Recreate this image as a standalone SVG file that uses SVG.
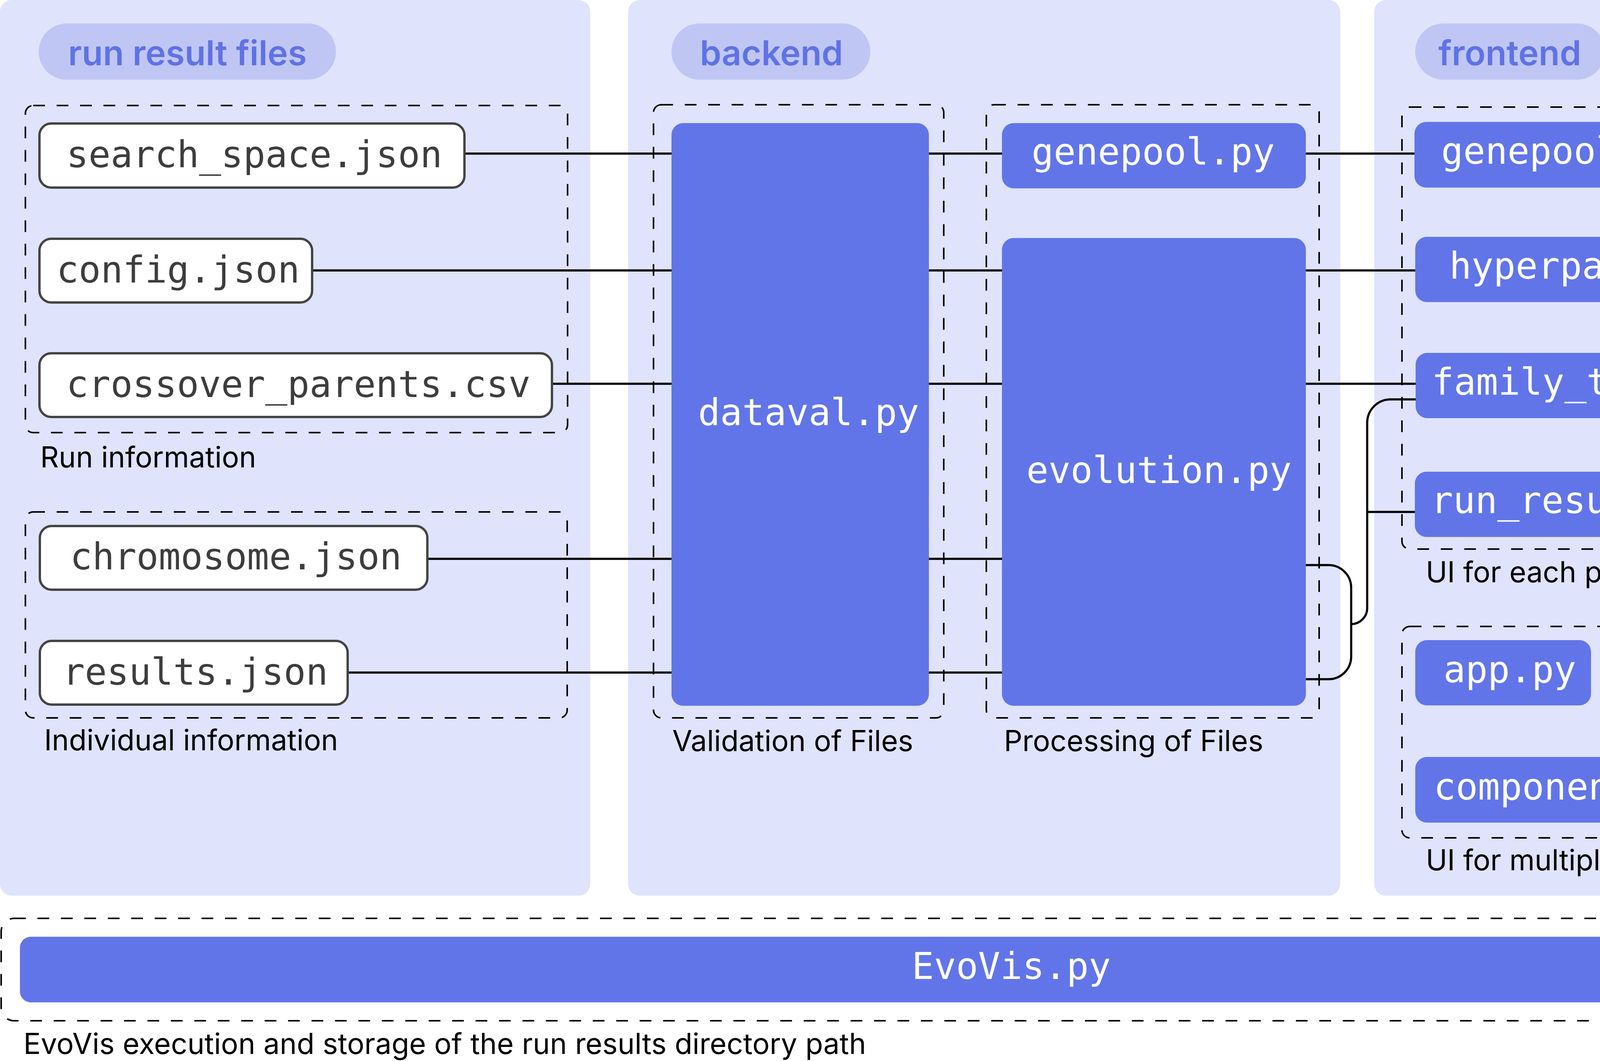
<svg xmlns="http://www.w3.org/2000/svg" width="5178" height="2715" viewBox="0 0 5178 2715">
<style>
.panel{fill:#dfe3fc}
.pill{fill:#c0c6f4}
.title{font-family:Inter,"Noto Sans",sans-serif;font-weight:600;font-size:88px;fill:#5f72e6;text-anchor:middle}
.group{fill:none;stroke:#000;stroke-width:4;stroke-dasharray:30 30}
.wbox{fill:#fff;stroke:#444;stroke-width:6}
.bbox{fill:#6275e8}
.wtxt{font-family:"DejaVu Sans Mono","Liberation Mono",monospace;font-size:94px;fill:#3d3d3d;text-anchor:middle}
.btxt{font-family:"DejaVu Sans Mono","Liberation Mono",monospace;font-size:94px;fill:#fff;text-anchor:middle}
.lbl{font-family:Inter,"Noto Sans",sans-serif;font-size:74px;fill:#000}
.conn{fill:none;stroke:#000;stroke-width:5.5}
</style>
<rect width="5178" height="2715" fill="#fff"/>
<g id="panel-run-result-files">
<rect class="panel" x="0" y="0" width="1511" height="2292" rx="30"/>
<rect class="pill" x="99" y="60" width="761" height="144" rx="72"/>
<text class="title" x="480" y="167">run result files</text>
</g>
<g id="panel-backend">
<rect class="panel" x="1608" y="0" width="1823" height="2292" rx="30"/>
<rect class="pill" x="1719" y="60" width="509" height="144" rx="72"/>
<text class="title" x="1975" y="167">backend</text>
</g>
<g id="panel-frontend">
<rect class="panel" x="3518" y="0" width="1658" height="2292" rx="30"/>
<rect class="pill" x="3623" y="60" width="486" height="144" rx="72"/>
<text class="title" x="3865" y="167">frontend</text>
</g>
<g id="group-run-information">
<rect class="group" x="65" y="270" width="1388" height="837" rx="20"/>
<text class="lbl" x="103" y="1196">Run information</text>
</g>
<g id="group-individual-information">
<rect class="group" x="65" y="1310" width="1387" height="527" rx="20"/>
<text class="lbl" x="113" y="1920">Individual information</text>
</g>
<g id="group-validation">
<rect class="group" x="1673" y="268" width="743" height="1569" rx="20"/>
<text class="lbl" x="1721" y="1922">Validation of Files</text>
</g>
<g id="group-processing">
<rect class="group" x="2525" y="268" width="852" height="1569" rx="20"/>
<text class="lbl" x="2570" y="1922">Processing of Files</text>
</g>
<g id="group-ui-each-page">
<rect class="group" x="3589" y="274" width="1528" height="1131" rx="20"/>
<text class="lbl" x="3650" y="1490">UI for each page</text>
</g>
<g id="group-ui-multiple-pages">
<rect class="group" x="3589" y="1603" width="1528" height="541" rx="20"/>
<text class="lbl" x="3650" y="2227">UI for multiple pages</text>
</g>
<g id="group-evovis">
<rect class="group" x="3" y="2350" width="5172" height="262" rx="33"/>
<text class="lbl" x="60" y="2697">EvoVis execution and storage of the run results directory path</text>
</g>
<g id="connectors">
<path class="conn" d="M1189 393H1719M2378 393H2565M3343 393H3621"/>
<path class="conn" d="M799 692H1719M2378 692H2565M3343 692H3623"/>
<path class="conn" d="M1413 982H1719M2378 982H2565M3343 982H3624"/>
<path class="conn" d="M1094 1430H1719M2378 1430H2565"/>
<path class="conn" d="M890 1721H1719M2378 1721H2565"/>
<path class="conn" d="M3343 1446H3401A58 58 0 0 1 3459 1504V1680A58 58 0 0 1 3401 1738H3343"/>
<path class="conn" d="M3459 1597A41 41 0 0 0 3500 1556V1082A60 60 0 0 1 3560 1022H3624"/>
<path class="conn" d="M3500 1310H3622"/>
</g>
<g id="node-search-space">
<rect class="wbox" x="101" y="316" width="1088" height="164" rx="30"/>
<text class="wtxt" x="651" y="428">search_space.json</text>
</g>
<g id="node-config">
<rect class="wbox" x="101" y="611" width="698" height="163" rx="30"/>
<text class="wtxt" x="456" y="723">config.json</text>
</g>
<g id="node-crossover-parents">
<rect class="wbox" x="101" y="904" width="1312" height="163" rx="30"/>
<text class="wtxt" x="764" y="1016">crossover_parents.csv</text>
</g>
<g id="node-chromosome">
<rect class="wbox" x="102" y="1346" width="992" height="163" rx="30"/>
<text class="wtxt" x="604" y="1457">chromosome.json</text>
</g>
<g id="node-results">
<rect class="wbox" x="102" y="1640" width="788" height="163" rx="30"/>
<text class="wtxt" x="500" y="1752">results.json</text>
</g>
<g id="node-dataval">
<rect class="bbox" x="1719" y="315" width="659" height="1491" rx="30"/>
<text class="btxt" x="2070" y="1088">dataval.py</text>
</g>
<g id="node-genepool">
<rect class="bbox" x="2565" y="315" width="778" height="167" rx="30"/>
<text class="btxt" x="2952" y="421">genepool.py</text>
</g>
<g id="node-evolution">
<rect class="bbox" x="2565" y="609" width="778" height="1197" rx="30"/>
<text class="btxt" x="2967" y="1236">evolution.py</text>
</g>
<g id="node-genepool-page">
<rect class="bbox" x="3621" y="312" width="1018" height="168" rx="30"/>
<text class="btxt" x="4142" y="419">genepool_page.py</text>
</g>
<g id="node-hyperparameters-page">
<rect class="bbox" x="3623" y="606" width="1448" height="167" rx="30"/>
<text class="btxt" x="4361" y="713">hyperparameters_page.py</text>
</g>
<g id="node-family-tree-page">
<rect class="bbox" x="3624" y="903" width="1160" height="167" rx="30"/>
<text class="btxt" x="4203" y="1010">family_tree_page.py</text>
</g>
<g id="node-run-results-page">
<rect class="bbox" x="3622" y="1207" width="1162" height="167" rx="30"/>
<text class="btxt" x="4201" y="1313">run_results_page.py</text>
</g>
<g id="node-app">
<rect class="bbox" x="3623" y="1638" width="450" height="167" rx="30"/>
<text class="btxt" x="3865" y="1746">app.py</text>
</g>
<g id="node-components">
<rect class="bbox" x="3623" y="1937" width="828" height="168" rx="30"/>
<text class="btxt" x="4038" y="2046">components.py</text>
</g>
<g id="node-evovis">
<rect class="bbox" x="51" y="2397" width="5076" height="168" rx="28"/>
<text class="btxt" x="2589" y="2505">EvoVis.py</text>
</g>
</svg>
